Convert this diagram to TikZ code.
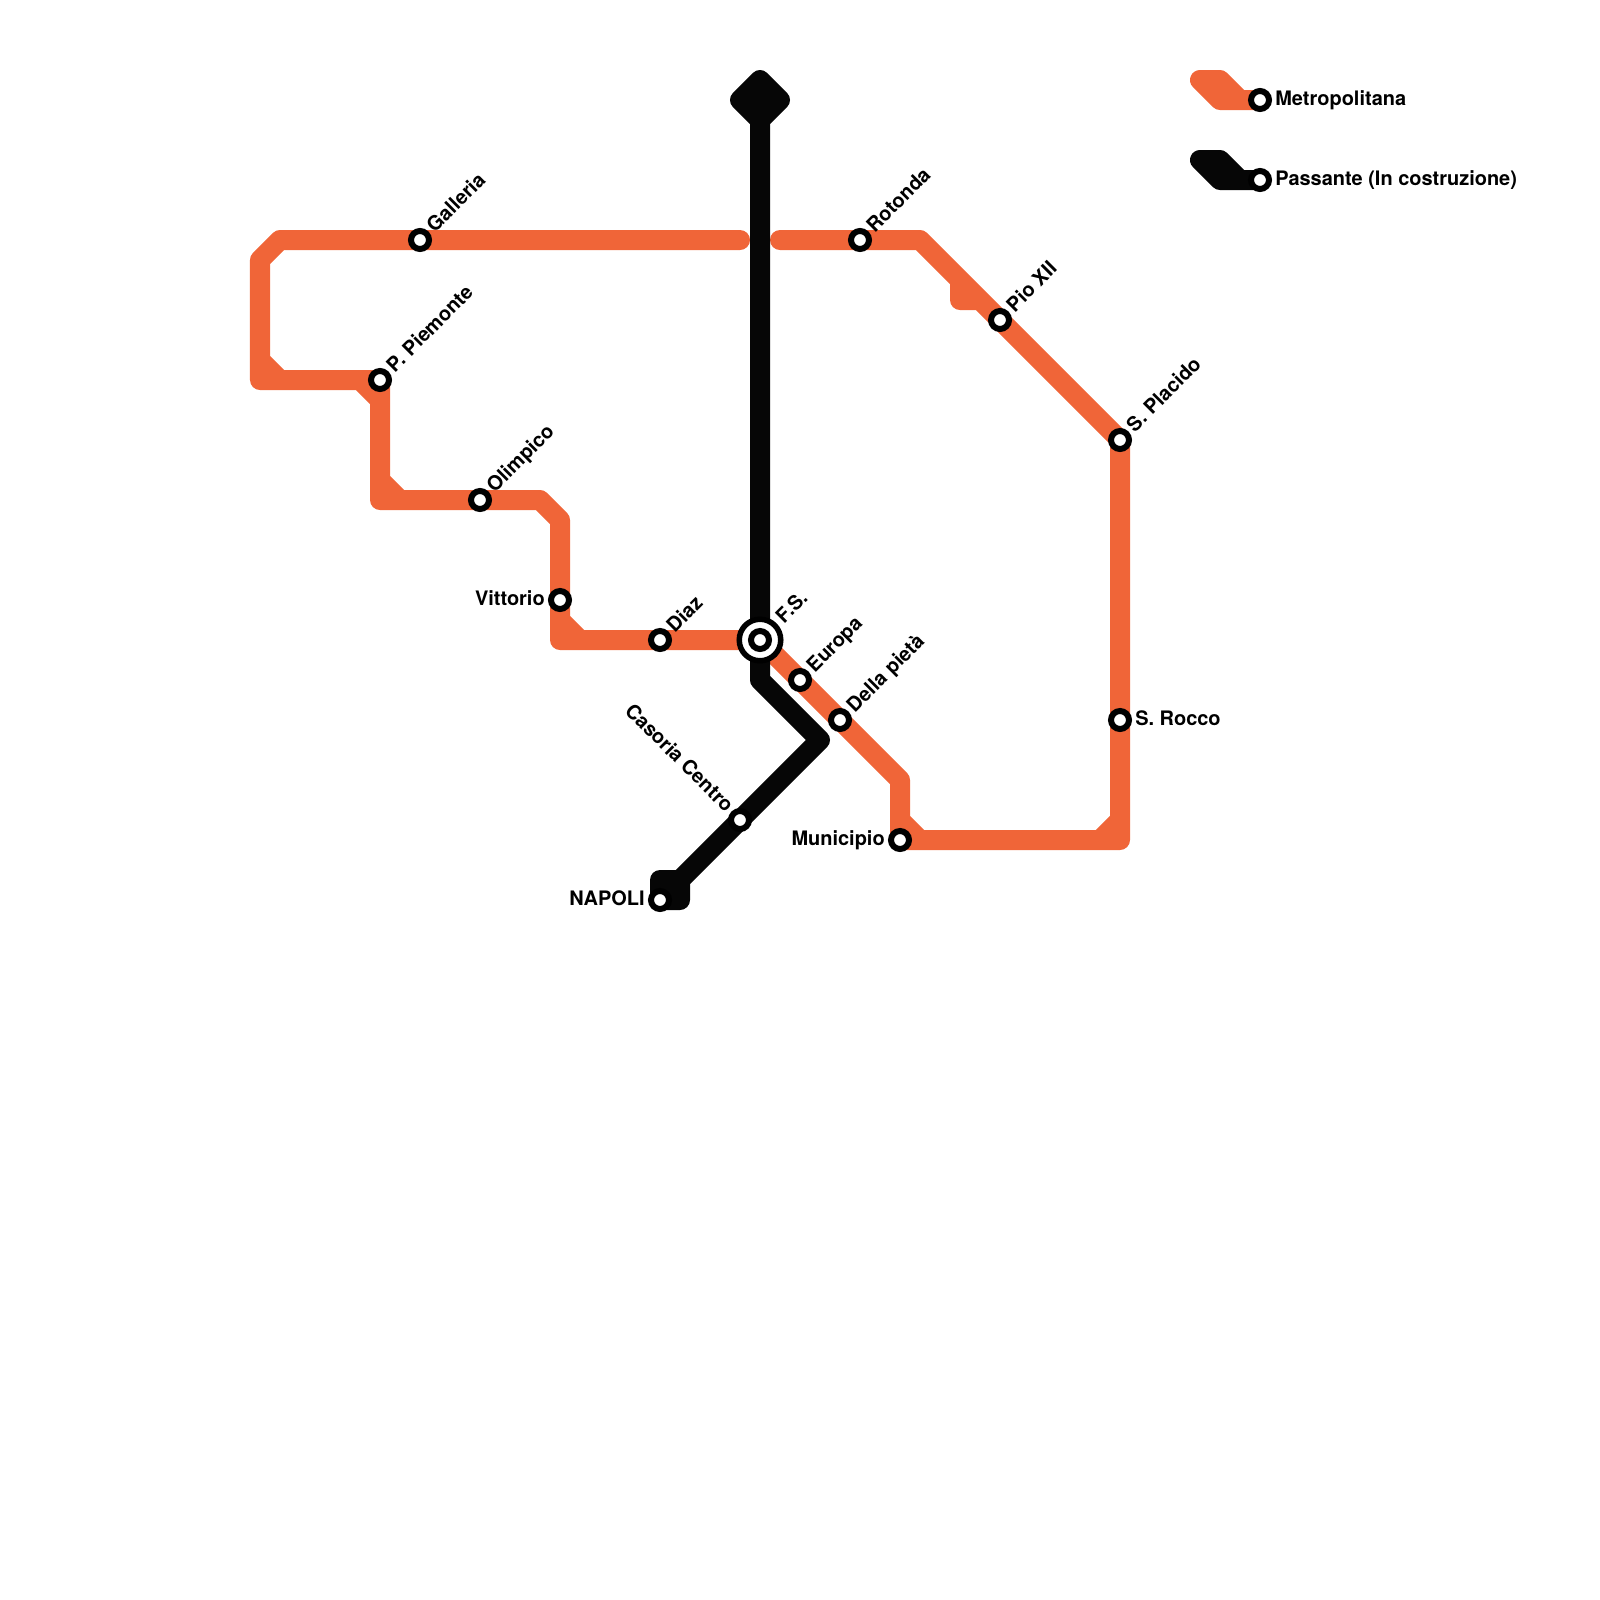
\documentclass[tikz,border=0pt]{standalone}
\usepackage{fontspec}
\setmainfont{TeX Gyre Heros}
\usepackage{xcolor}
\usetikzlibrary{backgrounds}
\definecolor{qorange}{RGB}{240,101,56}
\definecolor{qblack}{RGB}{6,6,6}
\tikzset{
 linea/.style={line width=0.5cm, line join=round},
 metro/.style={linea, color=qorange, line cap=round},
 passante/.style={linea, color=qblack},
 stazione/.style={circle, draw=black, fill=white, line width=0.15cm, minimum size=0.45cm, inner sep=0pt},
 nome/.style={font=\fontsize{14.2}{16}\selectfont\bfseries, inner sep=0.375cm, text=black, yshift=-0.05cm},
}

\begin{document}
\begin{tikzpicture}[x=0.025cm,y=-0.025cm]
\useasboundingbox (0,0) rectangle (1600,1600);

%interchange ring:
\node[circle, draw=black, fill=white, line width=0.1375cm, minimum size=1.0375cm, inner sep=0pt] (anello) at (760,640) {};

%stations with slanted labels:
\foreach \n/\x/\y/\t in {Galleria/420/240/Galleria, Piemonte/380/380/P. Piemonte, Olimpico/480/500/Olimpico,
 Diaz/660/640/Diaz, Europa/800/680/Europa, Pieta/840/720/Della pietà, Rotonda/860/240/Rotonda,
 Pio/1000/320/Pio XII, Placido/1120/440/S. Placido}{
 \node[stazione] (\n) at (\x,\y) {};
 \node[rotate=45, nome, anchor=mid west] (l\n) at (\n.center) {\t};
 }

%stations with straight labels:
\foreach \n/\x/\y/\t in {Rocco/1120/720/S. Rocco, Lmetro/1260/100/Metropolitana, Lpass/1260/180/Passante (In costruzione)}{
 \node[stazione] (\n) at (\x,\y) {};
 \node[nome, anchor=mid west] (l\n) at (\n.center) {\t};
 }
\foreach \n/\x/\y/\t in {Vittorio/560/600/Vittorio, Municipio/900/840/Municipio, Napoli/660/900/NAPOLI}{
 \node[stazione] (\n) at (\x,\y) {};
 \node[nome, anchor=mid east] (l\n) at (\n.center) {\t};
 }

\node[stazione] (FS) at (anello.center) {};
\node[rotate=45, nome, anchor=mid west, inner sep=0.7cm] (lFS) at (FS.center) {F.S.};
\node[stazione] (Casoria) at (740,820) {};
\node[rotate=-45, nome, anchor=mid east] (lCasoria) at (Casoria.center) {Casoria Centro};

%bends:
\coordinate (a1) at (740,240);
\coordinate (a2) at (280,240);
\coordinate (a3) at (260,260);
\coordinate (a4) at (260,360);
\coordinate (a5) at (280,380);
\coordinate (a6) at (260,380);
\coordinate (a7) at (360,380);
\coordinate (a8) at (380,400);
\coordinate (b1) at (380,480);
\coordinate (b2) at (400,500);
\coordinate (b3) at (380,500);
\coordinate (b4) at (540,500);
\coordinate (b5) at (560,520);
\coordinate (b6) at (560,620);
\coordinate (b7) at (580,640);
\coordinate (b8) at (560,640);
\coordinate (c1) at (780,240);
\coordinate (c2) at (920,240);
\coordinate (c3) at (960,280);
\coordinate (c4) at (960,300);
\coordinate (c5) at (980,300);
\coordinate (d1) at (1120,820);
\coordinate (d2) at (1120,840);
\coordinate (d3) at (1100,840);
\coordinate (d4) at (920,840);
\coordinate (d5) at (900,820);
\coordinate (d6) at (900,780);
\coordinate (e1) at (760,120);
\coordinate (e2) at (760,80);
\coordinate (e3) at (740,100);
\coordinate (e4) at (780,100);
\coordinate (e5) at (760,680);
\coordinate (e6) at (820,740);
\coordinate (e7) at (680,880);
\coordinate (e8) at (660,880);
\coordinate (e9) at (680,900);
\coordinate (m1) at (1200,80);
\coordinate (m2) at (1220,80);
\coordinate (m3) at (1240,100);
\coordinate (m4) at (1220,100);
\coordinate (p1) at (1200,160);
\coordinate (p2) at (1220,160);
\coordinate (p3) at (1240,180);
\coordinate (p4) at (1220,180);

\begin{scope}[on background layer]
%orange line, west:
\draw[metro] (a1) -- (a2) -- (a3) -- (a4) -- (a5) -- (a6) -- (a4) -- (a6) -- (a7) -- (a8) -- (Piemonte.center) -- (a7) -- (a8)
 -- (b1) -- (b2) -- (b3) -- (b1) -- (b3) -- (b4) -- (b5) -- (b6) -- (b7) -- (b8) -- (b6) -- (b8) -- (FS.center);

%orange line, east:
\draw[metro] (c1) -- (c2) -- (c3) -- (c4) -- (c5) -- (c3) -- (c5) -- (Placido.center) -- (d1) -- (d2) -- (d3) -- (d1) -- (d3)
 -- (d4) -- (d5) -- (Municipio.center) -- (d4) -- (d5) -- (d6) -- (FS.center);

%black line:
\draw[passante, line cap=round] (e1) -- (e4) -- (e2) -- (e3) -- (e1) -- (e2) -- (e5) -- (e6) -- (e7) -- (e9) -- (Napoli.center) -- (e8) -- (e7);

%legend:
\draw[metro] (m1) -- (m2) -- (m3) -- (Lmetro.center) -- (m4) -- cycle;
\draw[passante, line cap=round] (p1) -- (p2) -- (p3) -- (Lpass.center) -- (p4) -- cycle;
\end{scope}

\end{tikzpicture}
\end{document}
